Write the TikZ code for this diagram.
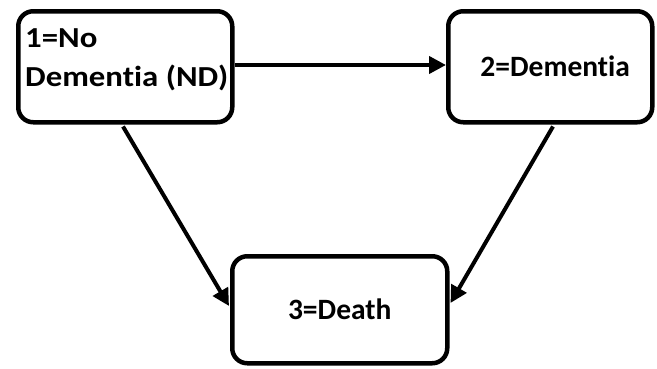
\documentclass[tikz,border=0pt]{standalone}
\usepackage{fontspec}
\setmainfont[RawFeature=-liga]{Carlito}
\usetikzlibrary{arrows.meta,calc}
\begin{document}
\begin{tikzpicture}[x=1pt,y=1pt,
  statebox/.style={draw=black,line width=4.5pt,rounded corners=15pt,fill=white},
  lbl/.style={font=\fontsize{29.5}{39}\selectfont\bfseries,text=black,inner sep=0pt},
  widelbl/.style={lbl,font=\fontsize{29}{39}\selectfont\bfseries,xscale=1.13},
  flow/.style={draw=black,line width=4pt,-{Triangle[length=17pt,width=17pt]}}]
\useasboundingbox (0,0) rectangle (657,368);
\fill[white] (0,0) rectangle (657,368);
% states
\node[statebox,minimum width=214pt,minimum height=111pt,anchor=north west] (nd) at (16,359) {};
\node[statebox,minimum width=204pt,minimum height=111pt,anchor=north west] (dem) at (446,359) {};
\node[statebox,minimum width=215pt,minimum height=107pt,anchor=north west] (death) at (230,114) {};
% labels
\node[widelbl,anchor=base west] (t1a) at (25,321) {1=No};
\node[widelbl,anchor=base west] (t1b) at (25,282) {Dementia (ND)};
\node[lbl] (t2) at ($(dem.center)+(5,0)$) {2=Dementia};
\node[lbl] (t3) at (death.center) {3=Death};
% transitions
\draw[flow] (nd.east |- 0,303) -- (dem.west |- 0,303);
\draw[flow] ($(nd.south west)+(107,-2)$) -- ($(death.north west)+(-1,-52)$);
\draw[flow] ($(dem.south west)+(107,-2)$) -- ($(death.north east)+(1,-49)$);
\end{tikzpicture}
\end{document}
